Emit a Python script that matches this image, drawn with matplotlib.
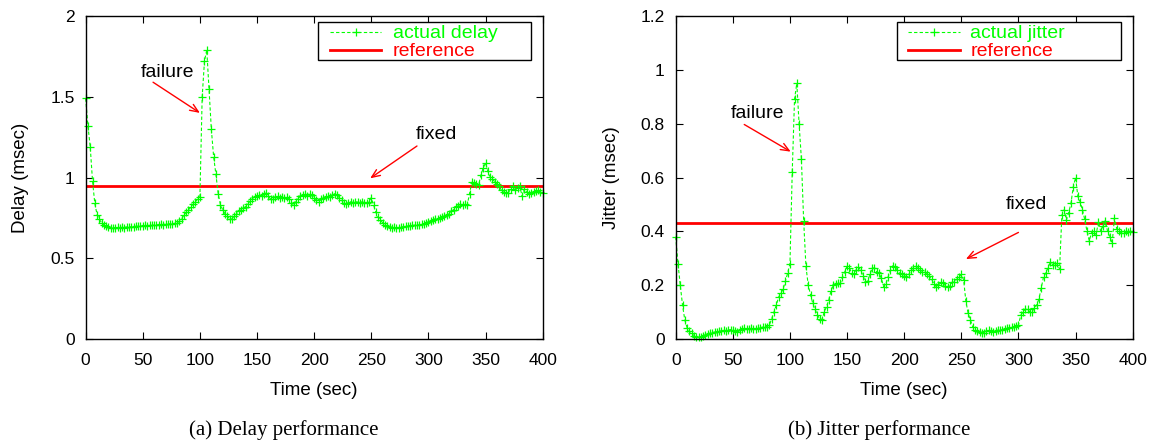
import numpy as np
import matplotlib
matplotlib.use("Agg")
import matplotlib.pyplot as plt
from matplotlib.lines import Line2D
from matplotlib.patches import Rectangle

plt.rcParams['font.family'] = ['Liberation Sans', 'DejaVu Sans']

# Sampling times (seconds)
time_sec = np.arange(0, 401, 2)

# End-to-end delay (msec), one value every 2 s
delay_ms = [
    1.49, 1.32, 1.19, 0.98, 0.84, 0.77, 0.74, 0.72, 0.705, 0.70,
    0.695, 0.69, 0.688, 0.69, 0.692, 0.688, 0.693, 0.69, 0.695, 0.692,
    0.696, 0.694, 0.698, 0.70, 0.697, 0.70, 0.703, 0.70, 0.705, 0.703,
    0.706, 0.708, 0.705, 0.71, 0.708, 0.712, 0.71, 0.714, 0.712, 0.716,
    0.72, 0.728, 0.745, 0.765, 0.785, 0.80, 0.815, 0.835, 0.85, 0.865,
    0.88, 1.50, 1.72, 1.79, 1.55, 1.30, 1.13, 1.02, 0.90, 0.83,
    0.80, 0.775, 0.76, 0.745, 0.745, 0.76, 0.775, 0.79, 0.80, 0.81,
    0.82, 0.835, 0.855, 0.87, 0.88, 0.885, 0.89, 0.885, 0.895, 0.905,
    0.885, 0.865, 0.87, 0.88, 0.885, 0.875, 0.88, 0.872, 0.878, 0.865,
    0.845, 0.83, 0.85, 0.87, 0.885, 0.89, 0.895, 0.885, 0.90, 0.89,
    0.875, 0.86, 0.85, 0.865, 0.875, 0.88, 0.885, 0.878, 0.89, 0.90,
    0.89, 0.875, 0.86, 0.84, 0.835, 0.845, 0.85, 0.845, 0.85, 0.848,
    0.843, 0.85, 0.845, 0.842, 0.85, 0.875, 0.83, 0.785, 0.755, 0.735,
    0.72, 0.708, 0.70, 0.695, 0.69, 0.692, 0.688, 0.69, 0.692, 0.695,
    0.697, 0.70, 0.70, 0.703, 0.705, 0.703, 0.707, 0.71, 0.712, 0.72,
    0.725, 0.73, 0.738, 0.745, 0.745, 0.75, 0.755, 0.76, 0.765, 0.775,
    0.79, 0.80, 0.815, 0.825, 0.835, 0.83, 0.835, 0.83, 0.90, 0.97,
    0.965, 0.96, 0.955, 1.015, 1.06, 1.09, 1.04, 1.005, 0.99, 0.975,
    0.96, 0.945, 0.92, 0.91, 0.905, 0.905, 0.93, 0.945, 0.92, 0.935,
    0.945, 0.885, 0.93, 0.91, 0.90, 0.905, 0.91, 0.915, 0.92, 0.91,
    0.905,
]

# Jitter (msec), one value every 2 s
jitter_ms = [
    0.38, 0.28, 0.20, 0.125, 0.07, 0.042, 0.03, 0.021, 0.013, 0.008,
    0.006, 0.008, 0.011, 0.015, 0.018, 0.022, 0.024, 0.026, 0.025, 0.028,
    0.03, 0.032, 0.030, 0.033, 0.035, 0.033, 0.03, 0.027, 0.032, 0.036,
    0.04, 0.038, 0.036, 0.04, 0.037, 0.036, 0.04, 0.042, 0.044, 0.045,
    0.046, 0.052, 0.075, 0.10, 0.125, 0.155, 0.17, 0.185, 0.215, 0.245,
    0.28, 0.62, 0.89, 0.95, 0.80, 0.67, 0.44, 0.27, 0.20, 0.165,
    0.132, 0.11, 0.09, 0.075, 0.072, 0.10, 0.12, 0.145, 0.18, 0.20,
    0.205, 0.208, 0.207, 0.23, 0.25, 0.27, 0.265, 0.245, 0.24, 0.258,
    0.268, 0.255, 0.235, 0.212, 0.215, 0.24, 0.262, 0.265, 0.25, 0.245,
    0.225, 0.195, 0.205, 0.232, 0.255, 0.272, 0.268, 0.255, 0.245, 0.24,
    0.235, 0.232, 0.24, 0.255, 0.265, 0.27, 0.262, 0.258, 0.25, 0.248,
    0.24, 0.233, 0.222, 0.205, 0.195, 0.20, 0.21, 0.208, 0.198, 0.192,
    0.198, 0.21, 0.213, 0.222, 0.23, 0.24, 0.22, 0.14, 0.095, 0.07,
    0.045, 0.035, 0.028, 0.025, 0.022, 0.024, 0.028, 0.032, 0.03, 0.027,
    0.03, 0.033, 0.035, 0.034, 0.037, 0.04, 0.042, 0.044, 0.046, 0.048,
    0.052, 0.088, 0.10, 0.112, 0.112, 0.10, 0.102, 0.115, 0.126, 0.15,
    0.19, 0.232, 0.245, 0.262, 0.287, 0.276, 0.274, 0.282, 0.26, 0.46,
    0.48, 0.442, 0.47, 0.505, 0.566, 0.60, 0.53, 0.51, 0.48, 0.445,
    0.40, 0.365, 0.395, 0.40, 0.388, 0.436, 0.40, 0.42, 0.44, 0.40,
    0.38, 0.355, 0.448, 0.41, 0.40, 0.395, 0.393, 0.40, 0.397, 0.40,
    0.399,
]

delay_reference = 0.95
jitter_reference = 0.43

delay_ticks = [0, 0.5, 1, 1.5, 2]
delay_ticklabels = ['0', '0.5', '1', '1.5', '2']
jitter_ticks = [0, 0.2, 0.4, 0.6, 0.8, 1.0, 1.2]
jitter_ticklabels = ['0', '0.2', '0.4', '0.6', '0.8', '1', '1.2']
time_ticks = [0, 50, 100, 150, 200, 250, 300, 350, 400]

GREEN = '#00ff00'
RED = '#ff0000'
SERIES_STYLE = dict(color=GREEN, linestyle=(0, (3, 2)), lw=0.8,
                    marker='+', markersize=5.5, markeredgewidth=0.9)

fig = plt.figure(figsize=(11.59, 4.42), dpi=100)
ax_d = fig.add_axes([0.0739, 0.233, 0.3943, 0.7308])
ax_j = fig.add_axes([0.5830, 0.233, 0.3943, 0.7308])


def key_box(ax, box_x0, handle_x0, handle_x1, text_x, series_label):
    """Gnuplot-style key in the top right corner, in axes fractions."""
    ax.add_patch(Rectangle((box_x0, 0.864), 0.974 - box_x0, 0.117,
                           transform=ax.transAxes, fill=True, facecolor='white',
                           edgecolor='black', lw=1.0, zorder=5))
    row1, row2 = 0.950, 0.895
    hx = [handle_x0, (handle_x0 + handle_x1) / 2, handle_x1]
    ax.add_line(Line2D(hx, [row1] * 3, transform=ax.transAxes, markevery=[1],
                       zorder=6, **SERIES_STYLE))
    ax.add_line(Line2D([handle_x0, handle_x1], [row2] * 2, transform=ax.transAxes,
                       color=RED, lw=2.0, zorder=6))
    ax.text(text_x, row1 - 0.004, series_label, transform=ax.transAxes,
            color=GREEN, fontsize=14, va='center', ha='left', zorder=6)
    ax.text(text_x, row2 - 0.004, 'reference', transform=ax.transAxes,
            color=RED, fontsize=14, va='center', ha='left', zorder=6)


def draw_panel(ax, values, ref, ylim, yticks, yticklabels, ylabel, annots):
    ax.plot(time_sec, values, zorder=3, clip_on=False, **SERIES_STYLE)
    ax.axhline(ref, color=RED, lw=2.0, zorder=2)
    ax.set_xlim(0, 400)
    ax.set_ylim(*ylim)
    ax.set_xticks(time_ticks)
    ax.set_xticklabels([str(t) for t in time_ticks])
    ax.set_yticks(yticks)
    ax.set_yticklabels(yticklabels)
    ax.tick_params(direction='in', length=5, width=0.8, top=True, right=True,
                   labelsize=12.5)
    ax.tick_params(axis='x', pad=10)
    ax.tick_params(axis='y', pad=8)
    for s in ax.spines.values():
        s.set_linewidth(1.0)
        s.set_zorder(7)
    ax.set_xlabel('Time (sec)', fontsize=13.5, labelpad=10)
    ax.set_ylabel(ylabel, fontsize=13.5, labelpad=15)

    for text, text_xy, tail_xy, head_xy in annots:
        ax.text(*text_xy, text, fontsize=14, ha='center', va='center')
        ax.annotate('', xy=head_xy, xytext=tail_xy,
                    arrowprops=dict(arrowstyle='->,head_length=0.6,head_width=0.25',
                                    color=RED, lw=1.0, shrinkA=0, shrinkB=0))


# Delay panel
draw_panel(ax_d, delay_ms, delay_reference, (0, 2), delay_ticks,
           delay_ticklabels, 'Delay (msec)',
           [('failure', (72, 1.65), (59, 1.59), (100, 1.40)),
            ('fixed', (307, 1.265), (290, 1.195), (249, 0.995))])
key_box(ax_d, 0.508, 0.535, 0.647, 0.672, 'actual delay')

# Jitter panel
draw_panel(ax_j, jitter_ms, jitter_reference, (0, 1.2), jitter_ticks,
           jitter_ticklabels, 'Jitter (msec)',
           [('failure', (72, 0.836), (60, 0.797), (100.7, 0.696)),
            ('fixed', (307, 0.50), (300, 0.396), (254, 0.297))])
key_box(ax_j, 0.484, 0.508, 0.622, 0.645, 'actual jitter')

# Sub-figure captions
fig.text(284 / 1159, 1 - 430 / 442, '(a) Delay performance',
         family='Liberation Serif', fontsize=15, ha='center', va='center')
fig.text(879 / 1159, 1 - 430 / 442, '(b) Jitter performance',
         family='Liberation Serif', fontsize=15, ha='center', va='center')

fig.savefig('out.png', dpi=100)
